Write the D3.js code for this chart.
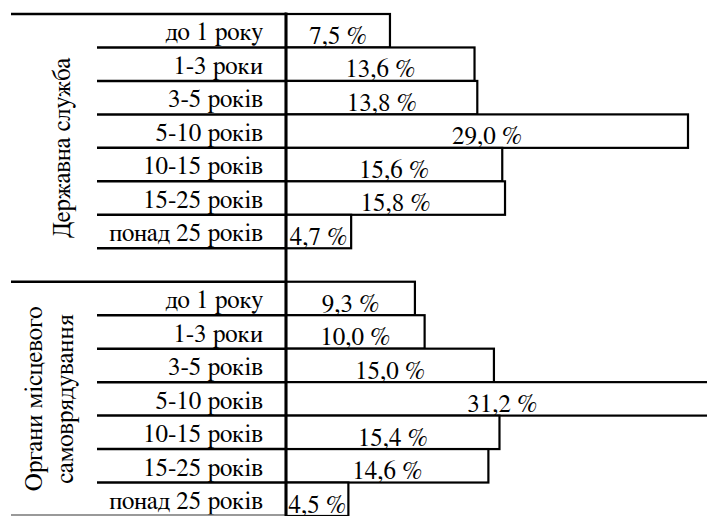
<!DOCTYPE html>
<html>
<head>
<meta charset="utf-8">
<script src="https://cdn.jsdelivr.net/npm/d3@7"></script>
<style>
  html, body { margin: 0; padding: 0; background: #fff; }
  svg { display: block; }
</style>
</head>
<body>
<svg id="chart" width="707" height="516"></svg>
<script>
// Стаж роботи: частка працівників за тривалістю служби
const categories = ["до 1 року", "1-3 роки", "3-5 років", "5-10 років", "10-15 років", "15-25 років", "понад 25 років"];
const groups = [["Державна служба"], ["Органи місцевого", "самоврядування"]];
const civilService = [7.5, 13.6, 13.8, 29.0, 15.6, 15.8, 4.7];
const localGov = [9.3, 10.0, 15.0, 31.2, 15.4, 14.6, 4.5];

const W = 707, H = 516;
const axisX = 286;
const FONT = "FreeSerif, 'Liberation Serif', 'Times New Roman', serif";
const FS = 25;
const svg = d3.select("#chart")
  .attr("font-family", FONT)
  .style("font-family", FONT);

// Rows: 7 categories, one empty spacer row, 7 categories
const rows = [];
civilService.forEach((v, i) => rows.push({ id: "a" + i, group: 0, cat: categories[i], value: v }));
rows.push({ id: "gap", group: -1 });
localGov.forEach((v, i) => rows.push({ id: "b" + i, group: 1, cat: categories[i], value: v }));

const y = d3.scaleBand().domain(rows.map(d => d.id)).range([14, 516]).padding(0);
const x = d3.scaleLinear().domain([0, 29.0]).range([axisX, 688]);
const bw = y.bandwidth();
const data = rows.filter(d => d.group >= 0);

const fmt = v => d3.format(".1f")(v).replace(".", ",") + " %";

// Bars
svg.append("g").selectAll("rect").data(data).join("rect")
  .attr("x", x(0))
  .attr("y", d => y(d.id))
  .attr("width", d => x(d.value) - x(0))
  .attr("height", bw)
  .attr("fill", "#fff")
  .attr("stroke", "#000")
  .attr("stroke-width", 2.2);

// Value labels centred in each bar
svg.append("g").selectAll("text").data(data).join("text")
  .attr("x", d => (x(0) + x(d.value)) / 2)
  .attr("y", d => y(d.id) + bw - 3.5)
  .attr("text-anchor", "middle")
  .attr("font-size", FS)
  .text(d => fmt(d.value));

// Category labels
svg.append("g").selectAll("text").data(data).join("text")
  .attr("x", 263)
  .attr("y", d => y(d.id) + bw - 7)
  .attr("text-anchor", "end")
  .attr("font-size", FS)
  .text(d => d.cat);

// Table rules on the label side
const rules = svg.append("g").attr("stroke", "#000").attr("stroke-width", 2.5);
data.forEach(d => {
  const yb = y(d.id) + bw;
  if (yb < H - 2) {
    rules.append("line").attr("x1", 97).attr("x2", axisX).attr("y1", yb).attr("y2", yb);
  }
});
rules.append("line").attr("x1", 11).attr("x2", axisX).attr("y1", y("a0")).attr("y2", y("a0"));
rules.append("line").attr("x1", 11).attr("x2", axisX).attr("y1", y("b0")).attr("y2", y("b0"));
svg.append("line").attr("x1", 11).attr("x2", axisX).attr("y1", 515).attr("y2", 515)
  .attr("stroke", "#777").attr("stroke-width", 1.5);

// Vertical axis
svg.append("line").attr("x1", axisX).attr("x2", axisX).attr("y1", 12.5).attr("y2", H)
  .attr("stroke", "#000").attr("stroke-width", 3);

// Group labels (rotated)
const groupSpans = [[y("a0"), y("b0")], [y("b0"), H]];
groups.forEach((lines, gi) => {
  const cy = (groupSpans[gi][0] + groupSpans[gi][1]) / 2;
  const baseX = lines.length === 1 ? [70] : [42, 73];
  lines.forEach((ln, li) => {
    svg.append("text")
      .attr("transform", `translate(${baseX[li]},${cy}) rotate(-90)`)
      .attr("text-anchor", "middle")
      .attr("font-size", FS)
      .text(ln);
  });
});
</script>
</body>
</html>
